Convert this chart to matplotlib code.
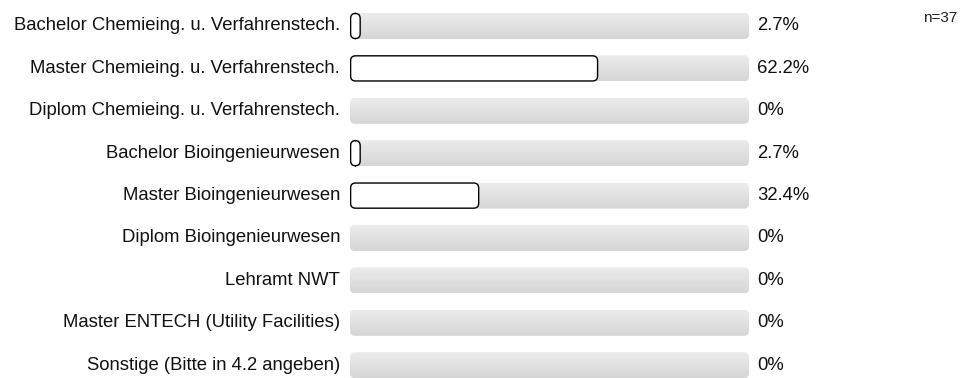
import numpy as np
import matplotlib
matplotlib.use("Agg")
import matplotlib.pyplot as plt
from matplotlib.patches import FancyBboxPatch

plt.rcParams['font.family'] = ['Liberation Sans', 'DejaVu Sans']

labels = [
    "Bachelor Chemieing. u. Verfahrenstech.",
    "Master Chemieing. u. Verfahrenstech.",
    "Diplom Chemieing. u. Verfahrenstech.",
    "Bachelor Bioingenieurwesen",
    "Master Bioingenieurwesen",
    "Diplom Bioingenieurwesen",
    "Lehramt NWT",
    "Master ENTECH (Utility Facilities)",
    "Sonstige (Bitte in 4.2 angeben)",
]
values = [2.7, 62.2, 0, 2.7, 32.4, 0, 0, 0, 0]
n_total = 37

W, H = 977, 378
fig = plt.figure(figsize=(W / 100, H / 100), dpi=100)

# bar region in pixels
x0_px, x1_px = 350, 749
row0_px, step_px = 26, 42.4
y_top, y_bot = -0.5, 8.3
top_px = row0_px + step_px * y_top
bot_px = row0_px + step_px * y_bot
ax = fig.add_axes([x0_px / W, 1 - bot_px / H, (x1_px - x0_px) / W, (bot_px - top_px) / H])
ax.set_xlim(0, 100)
ax.set_ylim(y_bot, y_top)
ax.axis("off")

px_x = (x1_px - x0_px) / 100
aspect = px_x / step_px
bar_h = 26 / step_px
rad = 5 / px_x

grad = np.linspace(0, 1, 50).reshape(-1, 1)
cmap = matplotlib.colors.LinearSegmentedColormap.from_list("g", ["#ececec", "#d6d6d6"])

for i, (lab, v) in enumerate(zip(labels, values)):
    bg = FancyBboxPatch((0, i - bar_h / 2), 100, bar_h,
                        boxstyle=f"round,pad=0,rounding_size={rad}",
                        mutation_aspect=aspect, fc="none", ec="none")
    ax.add_patch(bg)
    im = ax.imshow(grad, cmap=cmap, aspect="auto",
                   extent=(0, 100, i + bar_h / 2, i - bar_h / 2), zorder=1)
    im.set_clip_path(bg)
    if v > 0:
        fg = FancyBboxPatch((0.15, i - bar_h / 2 + 0.01), v - 0.3, bar_h - 0.02,
                            boxstyle=f"round,pad=0,rounding_size={rad}",
                            mutation_aspect=aspect, fc="white", ec="black",
                            lw=1.0, zorder=2)
        ax.add_patch(fg)
    ax.text(-2.5, i, lab, ha="right", va="center", fontsize=13.3, color="#111111")
    txt = f"{v:g}%"
    ax.text(102, i, txt, ha="left", va="center", fontsize=13.3, color="#111111")

ax.set_xlim(0, 100)
ax.set_ylim(y_bot, y_top)

fig.text(923 / W, 1 - 18 / H, f"n={n_total}", ha="left", va="center", fontsize=11, color="#222222")

fig.savefig("out.png", dpi=100)
